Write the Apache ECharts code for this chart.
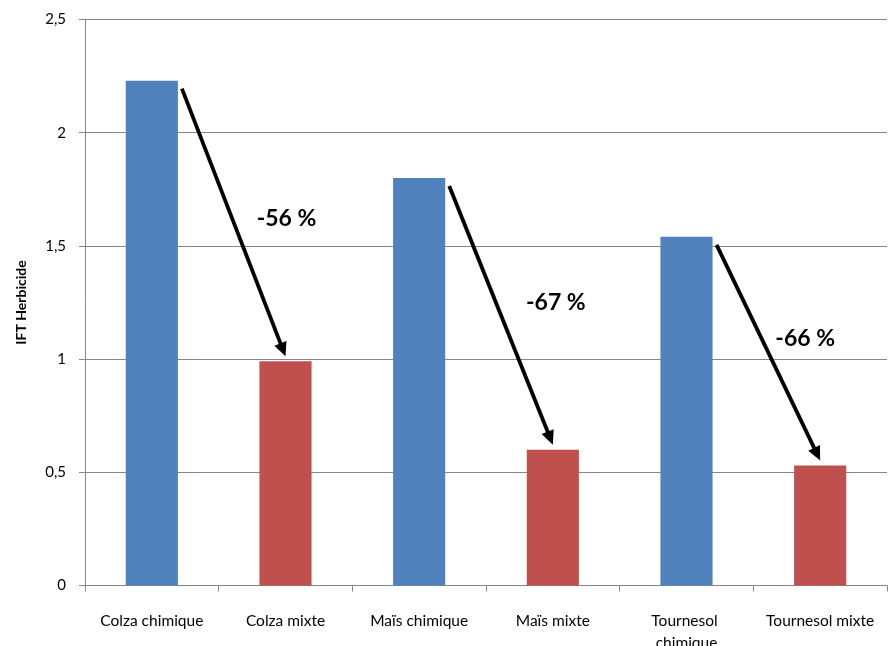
<!DOCTYPE html>
<html>
<head>
<meta charset="utf-8">
<script src="https://cdn.jsdelivr.net/npm/echarts@6/dist/echarts.min.js"></script>
<style>html,body{margin:0;padding:0;background:#fff}#c{width:893px;height:646px}</style>
</head>
<body>
<div id="c"></div>
<script>
var categories = ['Colza chimique', 'Colza mixte', 'Maïs chimique', 'Maïs mixte', 'Tournesol chimique', 'Tournesol mixte'];
var values = [2.23, 0.99, 1.80, 0.60, 1.54, 0.53];
var barColors = ['#4F81BD', '#C0504D', '#4F81BD', '#C0504D', '#4F81BD', '#C0504D'];
var reductionLabels = ['-56 %', '-67 %', '-66 %'];
var yTicks = { min: 0, max: 2.5, interval: 0.5 };

// annotation layout (pixel offset from red bar centre, y in data units)
var labelLayout = [[1, 1.62], [3, 1.25], [-15, 1.09]];

var chart = echarts.init(document.getElementById('c'));
var fontFam = 'Lato, "Open Sans", sans-serif';
chart.setOption({
  animation: false,
  grid: { left: 85, right: 6, top: 19.5, bottom: 60.5, containLabel: false, outerBoundsMode: 'none' },
  xAxis: {
    type: 'category',
    data: categories,
    axisLine: { lineStyle: { color: '#868686', width: 1 } },
    axisTick: { show: true, length: 6, lineStyle: { color: '#868686' } },
    axisLabel: { color: '#000', fontSize: 15.5, fontFamily: fontFam, margin: 24, width: 120, overflow: 'break', interval: 0, lineHeight: 22 }
  },
  yAxis: {
    type: 'value',
    min: yTicks.min, max: yTicks.max, interval: yTicks.interval,
    name: 'IFT Herbicide',
    nameLocation: 'middle',
    nameGap: 57,
    nameTextStyle: { color: '#000', fontSize: 14, fontWeight: 'bold', fontFamily: fontFam },
    axisLine: { show: true, lineStyle: { color: '#868686', width: 1 } },
    axisTick: { show: true, length: 6, lineStyle: { color: '#868686' } },
    splitLine: { lineStyle: { color: '#868686', width: 1 } },
    axisLabel: {
      color: '#000', fontSize: 15, fontFamily: fontFam, margin: 19,
      formatter: function (v) { return String(v).replace('.', ','); }
    }
  },
  series: [{
    type: 'bar',
    barWidth: '39%',
    data: values.map(function (v, i) { return { value: v, itemStyle: { color: barColors[i] } }; })
  }]
});

function drawAnnotations() {
  var elements = [];
  var barW = chart.getModel().getSeriesByIndex(0).getData().getItemLayout(0).width;
  for (var k = 0; k < 3; k++) {
    var bi = 2 * k, ri = 2 * k + 1;
    var pb = chart.convertToPixel({ seriesIndex: 0 }, [bi, values[bi]]);
    var pr = chart.convertToPixel({ seriesIndex: 0 }, [ri, values[ri]]);
    var x0 = pb[0] + barW / 2 + 4, y0 = pb[1] + 8;
    var x1 = pr[0], y1 = pr[1] - 5;
    var dx = x1 - x0, dy = y1 - y0, len = Math.sqrt(dx * dx + dy * dy);
    var ux = dx / len, uy = dy / len;
    var headLen = 14, headW = 6.5;
    var bx = x1 - ux * headLen, by = y1 - uy * headLen;
    elements.push({
      type: 'line', silent: true,
      shape: { x1: x0, y1: y0, x2: bx + ux * 2, y2: by + uy * 2 },
      style: { stroke: '#000', lineWidth: 3.8 }
    });
    elements.push({
      type: 'polygon', silent: true,
      shape: { points: [[x1, y1], [bx - uy * headW, by + ux * headW], [bx + uy * headW, by - ux * headW]] },
      style: { fill: '#000' }
    });
    var lp = chart.convertToPixel({ seriesIndex: 0 }, [ri, labelLayout[k][1]]);
    elements.push({
      type: 'text', silent: true,
      x: pr[0] + labelLayout[k][0], y: lp[1],
      style: { text: reductionLabels[k], fill: '#000', font: 'bold 23px ' + fontFam, align: 'center', verticalAlign: 'middle' }
    });
  }
  chart.setOption({ graphic: elements });
}
drawAnnotations();
</script>
</body>
</html>
